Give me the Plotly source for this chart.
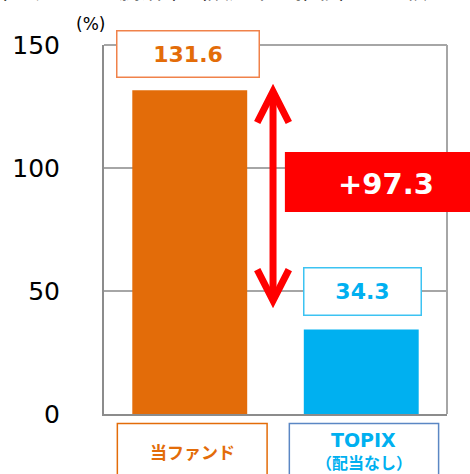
import plotly.graph_objects as go

categories = ["当ファンド", "TOPIX"]
category_sub = ["", "（配当なし）"]
values = [131.6, 34.3]
diff_label = "+97.3"
y_ticks = [0, 50, 100, 150]
bar_colors = ["#E36C09", "#00B0F0"]

FONT = "DejaVu Sans, Verdana, Noto Sans CJK JP, sans-serif"
JFONT = "Noto Sans CJK JP, DejaVu Sans, sans-serif"

L, R, T, B = 100, 23, 45, 60
PW, PH = 470 - L - R, 474 - T - B


def px(x):  # page pixel -> paper x
    return (x - L) / PW


def py(y):  # page pixel -> paper y
    return (474 - B - y) / PH


fig = go.Figure()
fig.add_trace(go.Bar(
    x=[0, 1], y=values, marker=dict(color=bar_colors, line=dict(width=0)),
    width=0.67, hoverinfo="skip", showlegend=False,
))

# value label boxes
label_border = ["#F0824A", "#3CC3F2"]
label_xy = [(184.7, 54.2), (361.3, 291.3)]
label_wh = [(141, 45), (116, 46)]
for i, v in enumerate(values):
    fig.add_annotation(
        x=px(label_xy[i][0]), y=py(label_xy[i][1]), xref="paper", yref="paper",
        text=f"<b>{v:.1f}</b>", showarrow=False,
        font=dict(family=FONT, size=22, color=bar_colors[i]),
        bgcolor="white", bordercolor=label_border[i], borderwidth=1.5, borderpad=0,
        width=label_wh[i][0], height=label_wh[i][1], xanchor="center", yanchor="middle",
    )

# difference box
fig.add_shape(type="rect", xref="paper", yref="paper", x0=px(283), x1=px(480), y0=py(212), y1=py(152),
              fillcolor="#FF0000", line=dict(width=0), layer="above")
fig.add_annotation(xref="paper", yref="paper", x=px(385), y=py(184), text=f"<b>{diff_label}</b>",
                   showarrow=False, font=dict(family=FONT, size=29, color="white"),
                   xanchor="center", yanchor="middle")

# double arrow
ax = px(271)
top = values[0] - 0.5
bot = values[1] + 11.8
dx = 16 / PW
dy = 12.6
arrow = dict(color="#FF0000", width=7)
fig.add_shape(type="line", xref="paper", yref="y", x0=ax, x1=ax, y0=bot + 1, y1=top - 1, line=arrow)
fig.add_shape(type="path", xref="paper", yref="y",
              path=f"M {ax-dx},{top-dy} L {ax},{top} L {ax+dx},{top-dy}", line=arrow)
fig.add_shape(type="path", xref="paper", yref="y",
              path=f"M {ax-dx},{bot+dy} L {ax},{bot} L {ax+dx},{bot+dy}", line=arrow)

# category label boxes
cat_border = ["#E36C09", "#5B87C4"]
cat_x = [(113.5, 265), (287.5, 438.5)]
for i, c in enumerate(categories):
    fig.add_shape(type="rect", xref="paper", yref="paper", x0=px(cat_x[i][0]), x1=px(cat_x[i][1]),
                  y0=py(423.5), y1=py(520), line=dict(color=cat_border[i], width=1.5))
cx0 = px(sum(cat_x[0]) / 2)
cx1 = px(sum(cat_x[1]) / 2)
fig.add_annotation(xref="paper", yref="paper", x=cx0, y=py(452), text=f"<b>{categories[0]}</b>",
                   showarrow=False, font=dict(family=JFONT, size=17, color=bar_colors[0]),
                   xanchor="center", yanchor="middle")
fig.add_annotation(xref="paper", yref="paper", x=cx1, y=py(440), text=f"<b>{categories[1]}</b>",
                   showarrow=False, font=dict(family=FONT, size=19, color=bar_colors[1]),
                   xanchor="center", yanchor="middle")
fig.add_annotation(xref="paper", yref="paper", x=cx1, y=py(462), text=f"<b>{category_sub[1]}</b>",
                   showarrow=False, font=dict(family=JFONT, size=16, color=bar_colors[1]),
                   xanchor="center", yanchor="middle")

# unit
fig.add_annotation(xref="paper", yref="paper", x=px(86), y=py(24), text="(%)", showarrow=False,
                   font=dict(family=FONT, size=17, color="black"), xanchor="center", yanchor="middle")

# cut-off title at top
fig.add_annotation(xref="paper", yref="paper", x=px(-20), y=py(-12), text="当ファンドの騰落率（設定来の推移）の比較",
                   showarrow=False, font=dict(family=JFONT, size=22, color="black"),
                   xanchor="left", yanchor="middle")

fig.update_layout(
    width=470, height=474, margin=dict(l=L, r=R, t=T, b=B),
    plot_bgcolor="white", paper_bgcolor="white",
    xaxis=dict(range=[-0.5, 1.5], showticklabels=False, showgrid=False, zeroline=False,
               showline=True, linecolor="#8C8C8C", linewidth=2, mirror=False, ticks=""),
    yaxis=dict(range=[0, 150], tickvals=y_ticks, showgrid=True, gridcolor="#A6A6A6", gridwidth=1.5,
               zeroline=False, showline=True, linecolor="#8C8C8C", linewidth=2, ticks="",
               ticklabelstandoff=37, tickfont=dict(family=FONT, size=25, color="black")),
)
# top and right border
fig.add_shape(type="line", xref="paper", yref="paper", x0=0, x1=1, y0=1, y1=1,
              line=dict(color="#A6A6A6", width=2), layer="below")
fig.add_shape(type="line", xref="paper", yref="paper", x0=1, x1=1, y0=0, y1=1,
              line=dict(color="#A6A6A6", width=2), layer="below")

fig.write_html("out.html", config={"displayModeBar": False},
               post_script="document.body.style.margin='0';")
